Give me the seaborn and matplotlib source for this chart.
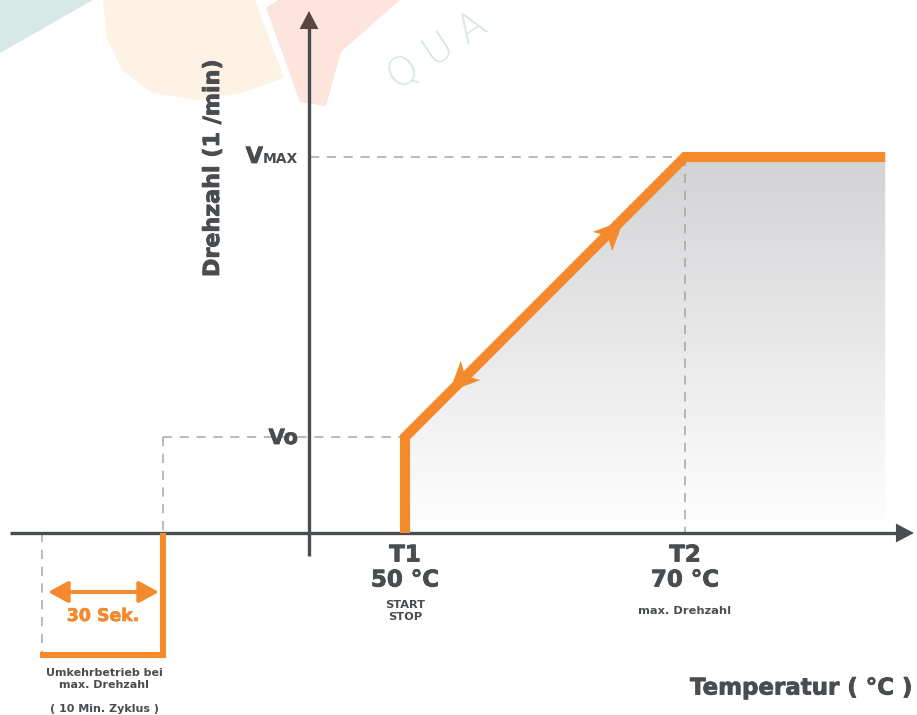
import numpy as np
import matplotlib
matplotlib.use("Agg")
import matplotlib.pyplot as plt
import matplotlib.patheffects as pe
import seaborn as sns
from matplotlib.patches import Polygon
from matplotlib.path import Path

# Data (schematic values)
t1, t2 = 50, 70            # start temperature / max speed temperature (°C)
t_end = 84.3               # end of the plateau
v0, vmax = 0.255, 1.0      # start speed / max speed (relative)
curve_t = [t1, t1, t2, t_end]
curve_v = [0, v0, vmax, vmax]
rev_t = [32.7, 32.7, 23.9]       # reverse-operation pulse
rev_v = [0, -0.325, -0.325]
temp_names = ["T1", "T2"]
temp_values = ["50 °C", "70 °C"]
sub_labels = ["START\nSTOP", "max. Drehzahl"]

ORANGE = "#F58A2C"
DARK = "#4a4d4f"
DASH = "#a5a5a5"

sns.set_theme(style="white")
plt.rcParams["font.family"] = ["DejaVu Sans"]

heavy = [pe.withStroke(linewidth=0.6, foreground=DARK)]

fig = plt.figure(figsize=(9.17, 7.15), dpi=100)

# background watermark (pixel coords)
bg = fig.add_axes([0, 0, 1, 1], zorder=0)
bg.set_xlim(0, 917)
bg.set_ylim(715, 0)
bg.axis("off")
bg.add_patch(Polygon([(0, 0), (93, 0), (0, 53)], color="#d7e9e6", lw=0))
bg.add_patch(Polygon([(255, 0), (284, 78), (242, 93), (196, 100), (152, 93),
                      (122, 70), (107, 38), (103, 0)], color="#fdf2e3", lw=0))
bg.add_patch(Polygon([(266, 8), (300, 102), (326, 106), (341, 52), (400, 0),
                      (278, 0)], color="#fde4dc", lw=0))
bg.text(438, 52, "Q U A", fontsize=28, color="#d6e8e5", rotation=33,
        ha="center", va="center", fontweight="light")

# main schematic axes
ax = fig.add_axes([0, 0, 1, 1], zorder=1)
ax.patch.set_alpha(0)
ax.axis("off")

def tx(px):
    return 50 + (px - 405) / 14.0

def vy(py):
    return (533 - py) / 376.0

xlim = (tx(0), tx(917))
ylim = (vy(715), vy(0))

# gradient fill under the curve
grad = np.linspace(0, 1, 256)[:, None]
top = np.array([0.824, 0.827, 0.835])
img = np.ones((256, 1, 3)) - grad[..., None] * (1 - top)
im = ax.imshow(img, extent=[t1, t_end, 0, vmax], origin="lower",
               aspect="auto", zorder=1)
clip = Polygon(list(zip(curve_t, curve_v)) + [(t_end, 0)], closed=True,
               transform=ax.transData, fc="none", ec="none")
ax.add_patch(clip)
im.set_clip_path(clip)

# dashed guides
dash = dict(color=DASH, lw=1.1, ls=(0, (6, 5)), zorder=2)
ax.plot([tx(310), t2], [vmax, vmax], **dash)
ax.plot([t2, t2], [vmax, 0], **dash)
ax.plot([rev_t[0], t1], [v0, v0], **dash)
ax.plot([rev_t[0], rev_t[0]], [v0, 0], **dash)
ax.plot([rev_t[2] + 0.15, rev_t[2] + 0.15], [0, rev_v[2]], **dash)

# axes with arrows
ax.plot([tx(10), tx(897)], [0, 0], color=DARK, lw=2.4, zorder=3,
        solid_capstyle="butt")
ax.plot([tx(309), tx(309)], [vy(556), vy(28)], color=DARK, lw=2.4, zorder=3,
        solid_capstyle="butt")
ax.annotate("", xy=(tx(914), 0), xytext=(tx(880), 0),
            arrowprops=dict(arrowstyle="-|>,head_length=1.3,head_width=0.68",
                            mutation_scale=10, color=DARK, lw=0,
                            shrinkA=0, shrinkB=0), zorder=3)
ax.annotate("", xy=(tx(309), vy(11)), xytext=(tx(309), vy(45)),
            arrowprops=dict(arrowstyle="-|>,head_length=1.3,head_width=0.68",
                            mutation_scale=10, color="#5a4440", lw=0,
                            shrinkA=0, shrinkB=0), zorder=3)

# orange characteristic curve
sns.lineplot(x=curve_t, y=curve_v, sort=False, estimator=None, color=ORANGE,
             lw=7.3, ax=ax, zorder=4)
sns.lineplot(x=rev_t, y=rev_v, sort=False, estimator=None, color=ORANGE,
             lw=4.4, ax=ax, zorder=4)
for ln in ax.lines[-2:]:
    ln.set_solid_joinstyle("miter")
    ln.set_solid_capstyle("butt")

# direction chevrons on the ramp
base = np.array([(1.0, 0.0), (-0.75, 0.8), (-0.3, 0.0), (-0.75, -0.8), (1.0, 0.0)])
for (pt, pv, ang) in [(64.7, 0.80, 45), (54.0, 0.41, 225)]:
    r = np.deg2rad(ang)
    rot = base @ np.array([[np.cos(r), np.sin(r)], [-np.sin(r), np.cos(r)]])
    codes = [Path.MOVETO] + [Path.LINETO] * 3 + [Path.CLOSEPOLY]
    ax.plot([pt], [pv], marker=Path(rot, codes), ms=27, color=ORANGE,
            mew=0, zorder=5)

# double arrow for the 30 s reverse phase
ax.annotate("", xy=(tx(48), vy(592)), xytext=(tx(159), vy(592)),
            arrowprops=dict(arrowstyle="<|-|>,head_length=1.2,head_width=0.65",
                            mutation_scale=10, color=ORANGE, lw=2.8,
                            shrinkA=0, shrinkB=0), zorder=5)
ax.text(tx(103), vy(616), "30 Sek.", color=ORANGE, fontsize=12.5,
        fontweight="bold", ha="center", va="center",
        path_effects=[pe.withStroke(linewidth=0.5, foreground=ORANGE)])

# labels
for tt, nm, val, sub in zip([t1, t2], temp_names, temp_values, sub_labels):
    ax.text(tt, vy(555), nm, fontsize=16.5, fontweight="bold", color=DARK,
            ha="center", va="center", path_effects=heavy)
    ax.text(tt, vy(580), val, fontsize=16.5, fontweight="bold", color=DARK,
            ha="center", va="center", path_effects=heavy)
    ax.text(tt, vy(611), sub, fontsize=8.2, fontweight="bold", color=DARK,
            ha="center", va="center", linespacing=1.15)

ax.text(tx(263), vy(163), "V", fontsize=16, fontweight="bold", color=DARK,
        ha="right", va="baseline", path_effects=heavy)
ax.text(tx(263), vy(163), "MAX", fontsize=10, fontweight="bold", color=DARK,
        ha="left", va="baseline")
ax.text(tx(298), vy(444), "Vo", fontsize=15, fontweight="bold", color=DARK,
        ha="right", va="baseline", path_effects=heavy)

ax.text(tx(213), vy(168), "Drehzahl (1 /min)", fontsize=16,
        fontweight="bold", color=DARK, rotation=90, ha="center", va="center",
        path_effects=heavy)
ax.text(tx(912), vy(688), "Temperatur ( °C )", fontsize=16.5, fontweight="bold",
        color=DARK, ha="right", va="center", path_effects=heavy)
ax.text(tx(104), vy(679), "Umkehrbetrieb bei\nmax. Drehzahl", fontsize=8,
        fontweight="bold", color=DARK, ha="center", va="center",
        linespacing=1.3)
ax.text(tx(104), vy(709), "( 10 Min. Zyklus )", fontsize=8,
        fontweight="bold", color=DARK, ha="center", va="center")

ax.set_xlim(*xlim)
ax.set_ylim(*ylim)

fig.savefig("out.png", dpi=100)
